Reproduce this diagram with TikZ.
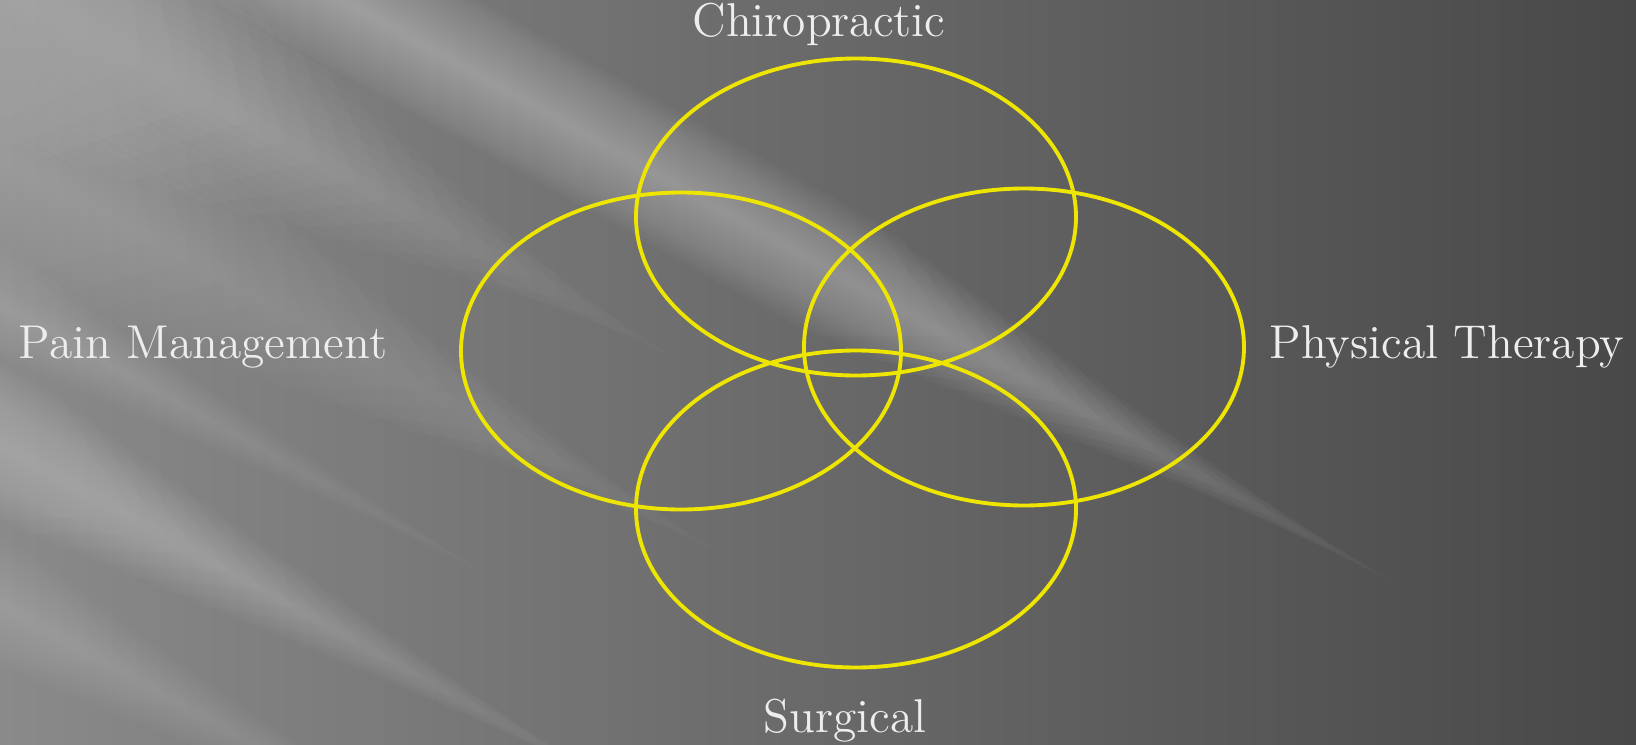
\documentclass[tikz,border=0pt]{standalone}
\usepackage{tikz}
\usetikzlibrary{shapes.geometric}
\definecolor{bgleft}{RGB}{138,138,138}
\definecolor{bgmid}{RGB}{92,92,92}
\definecolor{bgright}{RGB}{72,72,72}
\definecolor{ringyellow}{RGB}{238,230,0}
\tikzstyle{ndring} = [draw=ringyellow, line width=1.1pt, shape=ellipse, minimum width=4.4cm, minimum height=3.17cm, inner sep=0pt]
\tikzstyle{ndlabel} = [text=white!93!black, font=\fontsize{13.5}{16}\selectfont, anchor=base, inner sep=0pt]
\tikzstyle{streak} = [fill=white]

\begin{document}
\begin{tikzpicture}
        \shade[left color=bgleft, middle color=bgmid, right color=bgright] (0,0) rectangle (16.36,7.44);
        \begin{scope}
          \clip (0,0) rectangle (16.36,7.44);
          \foreach \px/\py/\wd/\op/\len in {8.3/4.74/0.65/0.022/5.5, 0/5.9/1.2/0.016/7, 0/7.6/1.5/0.02/6.5, 0/3.0/0.7/0.018/6, 0/1.4/0.6/0.016/5, 0/4.4/0.5/0.01/5}
          {
            \begin{scope}[shift={(\px,\py)}, rotate=-29]
              \foreach \k in {1,...,16}
                \fill[streak, fill opacity=\op] (-14,{-\wd*\k/16}) -- ({\len*(1.25-\k/16)-1.2},{-\wd*\k/16}) -- ({\len*(1.25-\k/16)},0) -- ({\len*(1.25-\k/16)-1.2},{\wd*\k/16}) -- (-14,{\wd*\k/16}) -- cycle;
            \end{scope}
          }
        \end{scope}
        \useasboundingbox (0,0) rectangle (16.36,7.44);
        \node[ndring] (chiro) at (8.56,5.27) {};
        \node[ndring] (pain) at (6.81,3.93) {};
        \node[ndring] (phys) at (10.24,3.97) {};
        \node[ndring] (surg) at (8.56,2.35) {};
        \node[ndlabel] (chirolabel) at (8.19,7.07) {Chiropractic};
        \node[ndlabel] (painlabel) at (2.03,3.86) {Pain Management};
        \node[ndlabel] (physlabel) at (14.47,3.86) {Physical Therapy};
        \node[ndlabel] (surglabel) at (8.45,0.12) {Surgical};
      \end{tikzpicture}
\end{document}
